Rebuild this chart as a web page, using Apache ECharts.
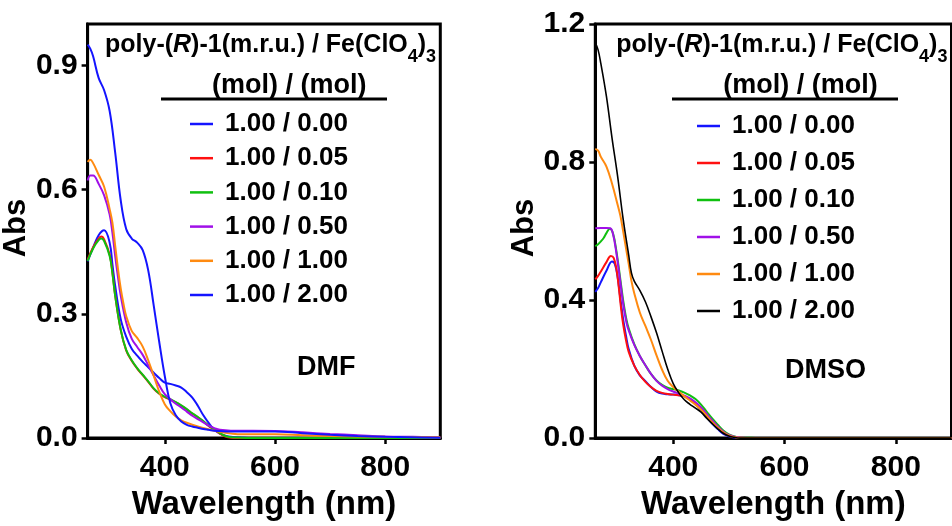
<!DOCTYPE html>
<html>
<head>
<meta charset="utf-8">
<script src="https://cdn.jsdelivr.net/npm/echarts@6/dist/echarts.min.js"></script>
<style>
html,body{margin:0;padding:0;background:#fff;}
#chart{width:952px;height:526px;}
</style>
</head>
<body>
<div id="chart"></div>
<script>
// ---------- data ----------
const ratioLabels = ['1.00 / 0.00','1.00 / 0.05','1.00 / 0.10','1.00 / 0.50','1.00 / 1.00','1.00 / 2.00'];
const xTicks = [400, 600, 800];
const leftYTicks = [0, 0.3, 0.6, 0.9];
const rightYTicks = [0, 0.4, 0.8, 1.2];
const leftSolvent = 'DMF';
const rightSolvent = 'DMSO';

// DMF (left panel) [wavelength nm, Abs]
const dmf_000 = [[260,0.427],[270,0.460],[280,0.490],[290,0.502],[300,0.472],[305,0.420],[310,0.368],[320,0.288],[330,0.245],[340,0.216],[350,0.199],[360,0.184],[370,0.171],[380,0.158],[390,0.145],[400,0.134],[410,0.131],[420,0.127],[430,0.122],[440,0.111],[450,0.098],[460,0.078],[470,0.055],[480,0.036],[490,0.020],[500,0.011],[510,0.006],[520,0.003],[540,0.001],[560,0],[600,0],[700,0],[800,0],[900,0]];
const dmf_005 = [[260,0.431],[270,0.461],[280,0.482],[285,0.487],[290,0.480],[300,0.443],[305,0.400],[310,0.345],[320,0.262],[330,0.212],[340,0.187],[350,0.168],[360,0.152],[370,0.136],[380,0.119],[390,0.107],[400,0.099],[410,0.093],[420,0.086],[430,0.078],[440,0.069],[450,0.059],[460,0.050],[470,0.040],[480,0.029],[490,0.020],[500,0.011],[510,0.004],[520,0.001],[540,0],[600,0],[700,0],[800,0],[900,0]];
const dmf_010 = [[260,0.428],[270,0.458],[280,0.478],[285,0.482],[290,0.476],[300,0.440],[305,0.398],[310,0.344],[320,0.262],[330,0.213],[340,0.188],[350,0.169],[360,0.153],[370,0.137],[380,0.120],[390,0.108],[400,0.100],[410,0.094],[420,0.087],[430,0.079],[440,0.070],[450,0.060],[460,0.051],[470,0.041],[480,0.030],[490,0.021],[500,0.012],[510,0.005],[520,0.002],[540,0.001],[560,0],[700,0],[800,0],[900,0]];
const dmf_050 = [[260,0.622],[265,0.634],[270,0.634],[280,0.614],[290,0.586],[300,0.540],[305,0.496],[310,0.440],[315,0.390],[320,0.345],[330,0.280],[340,0.240],[350,0.220],[360,0.201],[370,0.176],[380,0.151],[390,0.127],[400,0.106],[410,0.094],[420,0.083],[430,0.074],[440,0.064],[450,0.054],[460,0.046],[470,0.038],[480,0.030],[490,0.024],[500,0.020],[520,0.018],[560,0.018],[600,0.017],[650,0.014],[700,0.010],[750,0.007],[800,0.004],[850,0.003],[900,0.002]];
const dmf_100 = [[260,0.667],[265,0.672],[270,0.664],[280,0.636],[290,0.607],[300,0.553],[305,0.520],[310,0.465],[315,0.410],[320,0.362],[325,0.325],[330,0.295],[340,0.259],[350,0.242],[360,0.221],[370,0.188],[380,0.150],[390,0.112],[400,0.082],[410,0.065],[420,0.052],[430,0.043],[440,0.037],[460,0.028],[480,0.021],[500,0.015],[520,0.011],[540,0.009],[600,0.009],[650,0.007],[700,0.005],[750,0.004],[800,0.003],[900,0.002]];
const dmf_200 = [[260,0.950],[265,0.940],[270,0.922],[280,0.870],[290,0.840],[300,0.790],[310,0.690],[320,0.575],[330,0.505],[340,0.482],[350,0.472],[360,0.454],[370,0.405],[380,0.320],[390,0.232],[400,0.150],[410,0.085],[420,0.055],[430,0.040],[440,0.032],[450,0.028],[460,0.025],[470,0.022],[480,0.020],[490,0.018],[500,0.017],[520,0.016],[560,0.016],[600,0.016],[650,0.012],[700,0.008],[750,0.005],[800,0.003],[850,0.002],[900,0.001]];

// DMSO (right panel)
const dmso_000 = [[260,0.424],[265,0.435],[270,0.452],[280,0.485],[290,0.512],[295,0.505],[300,0.468],[305,0.405],[310,0.345],[315,0.298],[320,0.258],[330,0.210],[340,0.182],[350,0.165],[360,0.148],[370,0.135],[380,0.129],[390,0.127],[400,0.126],[410,0.124],[420,0.121],[430,0.112],[440,0.099],[450,0.082],[460,0.062],[470,0.042],[480,0.026],[490,0.012],[500,0.005],[510,0.002],[520,0],[600,0],[700,0],[800,0],[900,0]];
const dmso_005 = [[260,0.460],[265,0.470],[270,0.483],[280,0.510],[288,0.528],[293,0.522],[298,0.490],[302,0.440],[306,0.380],[310,0.330],[315,0.285],[320,0.250],[330,0.210],[340,0.183],[350,0.163],[360,0.148],[370,0.137],[380,0.131],[390,0.128],[400,0.126],[410,0.124],[420,0.122],[430,0.114],[440,0.101],[450,0.085],[460,0.067],[470,0.047],[480,0.030],[490,0.016],[500,0.007],[510,0.003],[520,0.001],[540,0],[700,0],[800,0],[900,0]];
const dmso_010 = [[260,0.556],[265,0.562],[270,0.570],[275,0.580],[280,0.594],[286,0.607],[292,0.592],[298,0.541],[305,0.460],[310,0.400],[316,0.343],[320,0.318],[330,0.272],[340,0.238],[350,0.211],[360,0.186],[370,0.167],[380,0.154],[390,0.146],[400,0.142],[410,0.138],[420,0.132],[430,0.124],[440,0.113],[450,0.097],[460,0.077],[470,0.057],[480,0.039],[490,0.022],[500,0.011],[510,0.005],[520,0.002],[540,0.001],[560,0],[700,0],[800,0],[900,0]];
const dmso_050 = [[260,0.608],[270,0.609],[280,0.609],[287,0.608],[292,0.590],[298,0.535],[305,0.452],[310,0.390],[316,0.335],[320,0.312],[330,0.270],[340,0.238],[350,0.211],[360,0.186],[370,0.166],[380,0.152],[390,0.142],[400,0.135],[410,0.129],[420,0.123],[430,0.115],[440,0.104],[450,0.089],[460,0.070],[470,0.051],[480,0.034],[490,0.019],[500,0.009],[510,0.004],[520,0.002],[540,0],[700,0],[800,0],[900,0]];
const dmso_100 = [[260,0.838],[265,0.833],[270,0.815],[280,0.787],[290,0.738],[300,0.677],[305,0.645],[310,0.600],[315,0.552],[320,0.505],[325,0.455],[330,0.420],[340,0.364],[350,0.325],[360,0.285],[370,0.240],[380,0.198],[390,0.166],[400,0.148],[410,0.134],[420,0.121],[430,0.109],[440,0.097],[450,0.082],[460,0.065],[470,0.046],[480,0.030],[490,0.017],[500,0.008],[510,0.003],[520,0.001],[540,0],[700,0],[800,0],[900,0]];
const dmso_200 = [[260,1.145],[265,1.125],[270,1.085],[280,0.990],[290,0.870],[300,0.760],[310,0.635],[320,0.530],[325,0.478],[330,0.455],[340,0.428],[350,0.395],[360,0.352],[370,0.305],[380,0.252],[390,0.200],[400,0.158],[410,0.131],[420,0.111],[430,0.098],[440,0.087],[450,0.075],[460,0.058],[470,0.042],[480,0.027],[490,0.014],[500,0.006],[510,0.002],[520,0],[600,0],[700,0],[800,0],[900,0]];

const leftData = [dmf_000, dmf_005, dmf_010, dmf_050, dmf_100, dmf_200];
const rightData = [dmso_000, dmso_005, dmso_010, dmso_050, dmso_100, dmso_200];
const leftColors = ['#1414ff','#ff1010','#10c010','#a010e8','#ff8a10','#1414ff'];
const rightColors = ['#1414ff','#ff1010','#10c010','#a010e8','#ff8a10','#000000'];

// ---------- chart ----------
const FONT = 'Liberation Sans, Arial, sans-serif';
const chart = echarts.init(document.getElementById('chart'), null, {renderer: 'canvas'});

function xAxis(gi) {
  return {
    type: 'value', gridIndex: gi, min: 260, max: 900,
    axisLine: {show: true, onZero: false, lineStyle: {color: '#000', width: 3}},
    axisTick: {show: true, customValues: xTicks, length: 6, lineStyle: {color: '#000', width: 2.5}},
    axisLabel: {customValues: xTicks, margin: 15, color: '#000', fontSize: 30, fontWeight: 'bold', fontFamily: FONT},
    splitLine: {show: false},
    name: 'Wavelength (nm)', nameLocation: 'middle', nameGap: 44,
    nameTextStyle: {color: '#000', fontSize: 33, fontWeight: 'bold', fontFamily: FONT}
  };
}
function yAxis(gi, max, ticks) {
  return {
    type: 'value', gridIndex: gi, min: 0, max: max,
    axisLine: {show: true, onZero: false, lineStyle: {color: '#000', width: 3}},
    axisTick: {show: true, customValues: ticks, length: 6, lineStyle: {color: '#000', width: 2.5}},
    axisLabel: {customValues: ticks, margin: 10, color: '#000', fontSize: 30, fontWeight: 'bold', fontFamily: FONT,
      formatter: v => Number(v).toFixed(1)},
    splitLine: {show: false},
    name: 'Abs', nameLocation: 'middle', nameGap: 42,
    nameTextStyle: {color: '#000', fontSize: 31, fontWeight: 'bold', fontFamily: FONT, padding: [0, 0, 0, 6]}
  };
}

const series = [];
leftData.forEach((d, i) => series.push({
  name: 'L' + ratioLabels[i], type: 'line', xAxisIndex: 0, yAxisIndex: 0, data: d,
  smooth: 0.4, symbol: 'none', color: leftColors[i], lineStyle: {width: 2, color: leftColors[i]}
}));
rightData.forEach((d, i) => series.push({
  name: 'R' + ratioLabels[i], type: 'line', xAxisIndex: 1, yAxisIndex: 1, data: d,
  smooth: 0.4, symbol: 'none', color: rightColors[i], lineStyle: {width: i === 5 ? 1.6 : 2, color: rightColors[i]}
}));

function legend(prefix, left, top, gap) {
  return {
    orient: 'vertical', left: left, top: top, padding: 0, itemGap: gap,
    icon: 'rect', itemWidth: 23, itemHeight: 2.5, selectedMode: false,
    data: ratioLabels.map(n => prefix + n),
    formatter: n => n.slice(1),
    textStyle: {color: '#000', fontSize: 26, fontWeight: 'bold', fontFamily: FONT, lineHeight: 30, padding: [0, 0, 0, 7]}
  };
}

const richTitle = {
  n: {fontSize: 25, fontWeight: 'bold', fontFamily: FONT, color: '#000', lineHeight: 25, verticalAlign: 'top'},
  i: {fontSize: 25, fontWeight: 'bold', fontStyle: 'italic', fontFamily: FONT, color: '#000', lineHeight: 25, verticalAlign: 'top'},
  s: {fontSize: 18, fontWeight: 'bold', fontFamily: FONT, color: '#000', lineHeight: 33, verticalAlign: 'bottom'}
};
const titleLine1 = '{n|poly-(}{i|R}{n|)-1(m.r.u.) / Fe(ClO}{s|4}{n|)}{s|3}';
function titles(x0) {
  return [
    {text: titleLine1, left: x0 + 21, top: 33, padding: 0, textStyle: {rich: richTitle}},
    {text: '(mol) / (mol)', left: x0 + 128, top: 71, padding: 0,
      textStyle: {color: '#000', fontSize: 27, fontWeight: 'bold', fontFamily: FONT, lineHeight: 30}}
  ];
}

chart.setOption({
  animation: false,
  backgroundColor: '#fff',
  grid: [
    {left: 84, top: 24, width: 356.3, height: 423.5, show: true, borderColor: '#000', borderWidth: 3, containLabel: false},
    {left: 595.3, top: 24, width: 356.2, height: 422.7, show: true, borderColor: '#000', borderWidth: 3, containLabel: false}
  ],
  xAxis: [xAxis(0), xAxis(1)],
  yAxis: [yAxis(0, 1.0, leftYTicks), yAxis(1, 1.2, rightYTicks)],
  legend: [legend('L', 190, 109, 4.2), legend('R', 697, 111, 7)],
  title: [
    ...titles(84), ...titles(595.3),
    {text: leftSolvent, left: 297, top: 354, padding: 0, textStyle: {color: '#000', fontSize: 27, fontWeight: 'bold', fontFamily: FONT, lineHeight: 28}},
    {text: rightSolvent, left: 785, top: 357, padding: 0, textStyle: {color: '#000', fontSize: 27, fontWeight: 'bold', fontFamily: FONT, lineHeight: 28}}
  ],
  graphic: [
    {type: 'line', shape: {x1: 161, y1: 99, x2: 387, y2: 99}, style: {stroke: '#000', lineWidth: 3}},
    {type: 'line', shape: {x1: 672, y1: 99, x2: 898, y2: 99}, style: {stroke: '#000', lineWidth: 3}}
  ],
  series: series
});
</script>
</body>
</html>
